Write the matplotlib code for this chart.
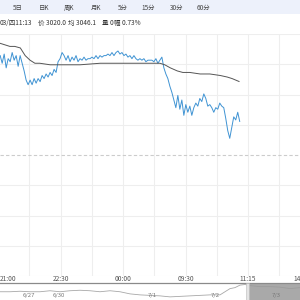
import matplotlib.pyplot as plt
import matplotlib.transforms as mtransforms
from matplotlib.patches import Rectangle
import numpy as np

plt.rcParams['font.family'] = ['Noto Sans CJK SC', 'DejaVu Sans']

# =========================================================
# data
# =========================================================
tabs = ["5日", "日K", "周K", "月K", "5分", "15分", "30分", "60分"]
tab_pos = [17.5, 44, 69, 96, 123, 148.5, 176.5, 203.5]

info_items = ["03/四11:13", "价 3020.0", "均 3046.1", "量 0", "幅 0.73%"]
info_pos = [0, 38, 68, 101.5, 114]

prev_close = 2998.1
grid_step = 19.75

# intraday price, minutes since 21:00 (trading time)
price = [3063, 3058, 3064, 3055, 3061, 3059, 3065, 3060, 3063, 3056,
         3063, 3058, 3053, 3047, 3044, 3047, 3044, 3048, 3045, 3048,
         3046, 3050, 3048, 3051, 3049, 3052, 3050, 3054, 3052, 3059,
         3061, 3065, 3063, 3060, 3063, 3059, 3062, 3060, 3063, 3059,
         3061, 3060, 3062, 3060, 3061, 3061, 3062, 3061, 3063, 3061,
         3063, 3062, 3063, 3063, 3064, 3063, 3065, 3063, 3065, 3066,
         3064, 3065, 3063, 3064, 3062, 3063, 3061, 3063, 3061, 3060,
         3061, 3060, 3061, 3059, 3060, 3060, 3060, 3059, 3061, 3058,
         3060, 3062, 3055, 3051, 3048, 3043, 3039, 3034, 3029, 3037,
         3028, 3034, 3024, 3031, 3026, 3030, 3024, 3029, 3032, 3030,
         3035, 3033, 3038, 3035, 3030, 3031, 3029, 3026, 3029, 3028,
         3032, 3030, 3029, 3022, 3014, 3009, 3016, 3023, 3021, 3026,
         3020]
price_t = np.linspace(3, 348, len(price))

avg_t = [3, 10, 17, 24, 32, 39, 46, 53, 60, 75, 89, 118, 147, 176, 219,
         233, 240, 248, 258, 266, 276, 291, 305, 320, 330, 337, 347]
avg = [3071, 3070, 3069, 3069, 3068, 3063, 3060, 3058, 3058, 3057, 3057,
       3057, 3058, 3058, 3058, 3058, 3057, 3055, 3053, 3052, 3052, 3051,
       3051, 3050, 3049, 3048, 3046.1]

tick_t = [0, 90, 180, 270, 360, 450]
tick_labels = ["21:00", "22:30", "00:00", "09:30", "11:15", "14:45"]

# navigator strip (several days)
nav_x = [0, 10, 20, 30, 40, 50, 60, 70, 80, 90, 100, 110, 120, 130, 140,
         150, 160, 170, 180, 190, 200, 210, 220, 230, 235, 240, 245, 250,
         260, 270, 280, 290, 300]
nav_y = [3026, 3026, 3030, 3026, 3026, 3034, 3026, 3034, 3038, 3034, 3026,
         3034, 3026, 3009, 3001, 2997, 2993, 2985, 2989, 2993, 2997, 3001,
         3001, 3051, 3059, 3079, 3084, 3075, 3067, 3067, 3063, 3051, 3059]
nav_dates = ["6/27", "6/30", "7/1", "7/2", "7/3"]
nav_date_x = [29, 59, 152, 215, 276]

# =========================================================
# plotting
# =========================================================
W = H = 300.0
fig = plt.figure(figsize=(3, 3), dpi=100)
fig.patch.set_facecolor("white")

# top tab bar
fig.patches.append(Rectangle((0, 1 - 14 / H), 1, 14 / H, transform=fig.transFigure,
                             facecolor="#edf1fb", edgecolor="none", zorder=0))
for name, x in zip(tabs, tab_pos):
    fig.text(x / W, 1 - 7.5 / H, name, ha="center", va="center",
             fontsize=4.6, color="#444444")
for item, x in zip(info_items, info_pos):
    fig.text(x / W, 1 - 23 / H, item, ha="left", va="center",
             fontsize=4.7, color="#333333")

# main chart
ax = fig.add_axes([0, 24 / H, 1, 242 / H])
ax.set_xlim(2.74, 434.8)
ax.set_ylim(prev_close - 4 * grid_step, prev_close + 4 * grid_step)
for t in range(45, 451, 45):
    ax.axvline(t, color="#eeeeee", linewidth=0.8, zorder=0)
for k in range(-4, 5):
    if k != 0:
        ax.axhline(prev_close + k * grid_step, color="#eeeeee",
                   linewidth=0.8, zorder=0)
ax.axhline(prev_close, color="#cccccc", linewidth=0.8,
           linestyle=(0, (3, 2)), zorder=1)
ax.plot(avg_t, avg, color="#555555", linewidth=0.7, zorder=3)
ax.plot(price_t, price, color="#3f93d3", linewidth=0.7, zorder=2)
for s in ax.spines.values():
    s.set_visible(False)
ax.set_xticks([])
ax.set_yticks([])

# time labels: first one pinned to the left edge, last one runs off the right
trans = mtransforms.blended_transform_factory(ax.transData, ax.transAxes)
label_y = -2.6 / 242
ax.text(0, label_y, tick_labels[0], transform=ax.transAxes, ha="left",
        va="center", fontsize=4.8, color="#555555", clip_on=False)
for t, lab in zip(tick_t[1:-1], tick_labels[1:-1]):
    ax.text(t, label_y, lab, transform=trans, ha="center", va="center",
            fontsize=4.8, color="#555555", clip_on=False)
ax.text(tick_t[-1], label_y, tick_labels[-1], transform=trans, ha="right",
        va="center", fontsize=4.8, color="#555555", clip_on=False)

# navigator strip
nav = fig.add_axes([0, 0, 1, 17.5 / H])
nav.set_xlim(0, 300)
nav.set_ylim(2960, 3100)
nav.plot(nav_x, nav_y, color="#a8a8a8", linewidth=0.6, zorder=1)
nav.axvspan(249, 300, color="#9a9a9a", alpha=0.85, zorder=2, linewidth=0)
nav.axvspan(245.5, 249, facecolor="#e4e4e4", edgecolor="#bbbbbb",
            linewidth=0.4, zorder=3)
for d, x in zip(nav_dates, nav_date_x):
    nav.text(x, 2992, d, ha="center", va="center", fontsize=4.3,
             color="#777777", zorder=4)
for s in nav.spines.values():
    s.set_visible(False)
nav.spines["top"].set_visible(True)
nav.spines["top"].set_color("#8a8a8a")
nav.spines["top"].set_linewidth(0.9)
nav.set_xticks([])
nav.set_yticks([])

fig.savefig("out.png", dpi=100)
